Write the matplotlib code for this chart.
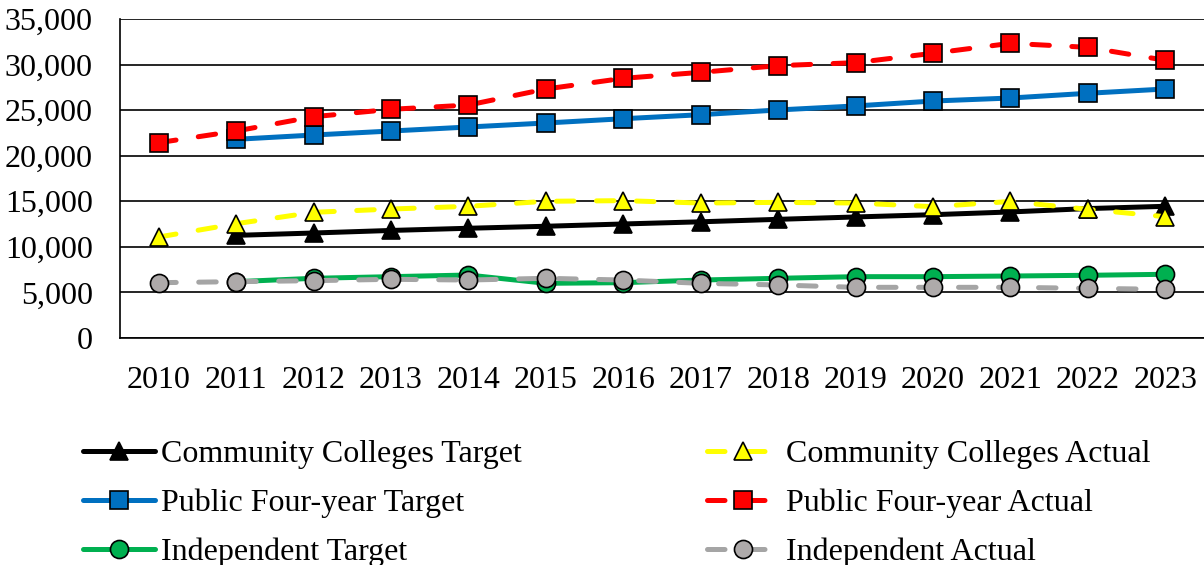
import matplotlib
matplotlib.use("Agg")
import matplotlib.pyplot as plt

plt.rcParams['font.family'] = ['Liberation Serif', 'DejaVu Serif']

# data
years = ["2010", "2011", "2012", "2013", "2014", "2015", "2016",
         "2017", "2018", "2019", "2020", "2021", "2022", "2023"]

cc_target = [None, 11260, 11520, 11800, 12040, 12260, 12510,
             12750, 13020, 13280, 13530, 13830, 14200, 14450]
cc_actual = [11080, 12540, 13790, 14150, 14450, 15000, 15070,
             14810, 14880, 14810, 14410, 14980, 14120, 13310]
pf_target = [None, 21800, 22270, 22710, 23150, 23590, 24060,
             24500, 25020, 25460, 26000, 26330, 26850, 27320]
pf_actual = [21430, 22710, 24280, 25090, 25560, 27320, 28490,
             29150, 29880, 30210, 31240, 32330, 31890, 30470]
ind_target = [None, 6180, 6550, 6730, 6910, 6000, 6070,
              6360, 6550, 6730, 6730, 6800, 6880, 6990]
ind_actual = [6070, 6180, 6290, 6440, 6360, 6550, 6360,
              6000, 5820, 5560, 5560, 5560, 5450, 5340]

labels = ["Community Colleges Target", "Community Colleges Actual",
          "Public Four-year Target", "Public Four-year Actual",
          "Independent Target", "Independent Actual"]


def to_xy(vals):
    xs = [i for i, v in enumerate(vals) if v is not None]
    ys = [v for v in vals if v is not None]
    return xs, ys


fig = plt.figure(figsize=(12.04, 5.65), dpi=100)
ax = fig.add_axes([120 / 1204, 1 - 338 / 565, 1 - 120 / 1204, (338 - 19) / 565])

lw = 3.6
dash = (3.5, 4.5)
series = [
    (cc_target, dict(color="black", marker="^", mfc="black", mec="black")),
    (cc_actual, dict(color="#FFFF00", marker="^", mfc="#FFFF00", mec="black", dashes=dash)),
    (pf_target, dict(color="#0070C0", marker="s", mfc="#0070C0", mec="black")),
    (pf_actual, dict(color="#FF0000", marker="s", mfc="#FF0000", mec="black", dashes=dash)),
    (ind_target, dict(color="#00B050", marker="o", mfc="#00B050", mec="black")),
    (ind_actual, dict(color="#A5A5A5", marker="o", mfc="#AEAAAA", mec="black", dashes=dash)),
]

handles = []
for (vals, style), lab in zip(series, labels):
    xs, ys = to_xy(vals)
    ms = 13 if style["marker"] == "o" else 12.5
    h, = ax.plot(xs, ys, lw=lw, ms=ms, mew=1.2, label=lab,
                 solid_capstyle="round", dash_capstyle="round", **style)
    handles.append(h)

ax.set_xlim(-0.5, len(years) - 0.5)
ax.set_ylim(0, 35000)
ax.set_yticks(range(0, 35001, 5000))
ax.set_yticklabels([f"{v:,}" for v in range(0, 35001, 5000)])
ax.set_xticks(range(len(years)))
ax.set_xticklabels(years)
ax.tick_params(axis="both", length=0, labelsize=23)
ax.tick_params(axis="x", pad=20)
ax.tick_params(axis="y", pad=19.5)

ax.yaxis.grid(True, color="black", lw=1.2)
ax.set_axisbelow(True)
for side in ["top", "right"]:
    ax.spines[side].set_visible(False)
ax.spines["left"].set_linewidth(1.2)
ax.spines["bottom"].set_linewidth(1.2)

# column-major fill: left column targets, right column actuals
order = [0, 2, 4, 1, 3, 5]
fig.legend([handles[i] for i in order], [labels[i] for i in order],
           loc="upper left", bbox_to_anchor=(83 / 1204, 1 - 440 / 565),
           ncol=2, frameon=False, fontsize=23, handlelength=2.25,
           handletextpad=0.2, columnspacing=5.8, labelspacing=0.61,
           borderpad=0, borderaxespad=0)

fig.savefig("out.png", dpi=100)
